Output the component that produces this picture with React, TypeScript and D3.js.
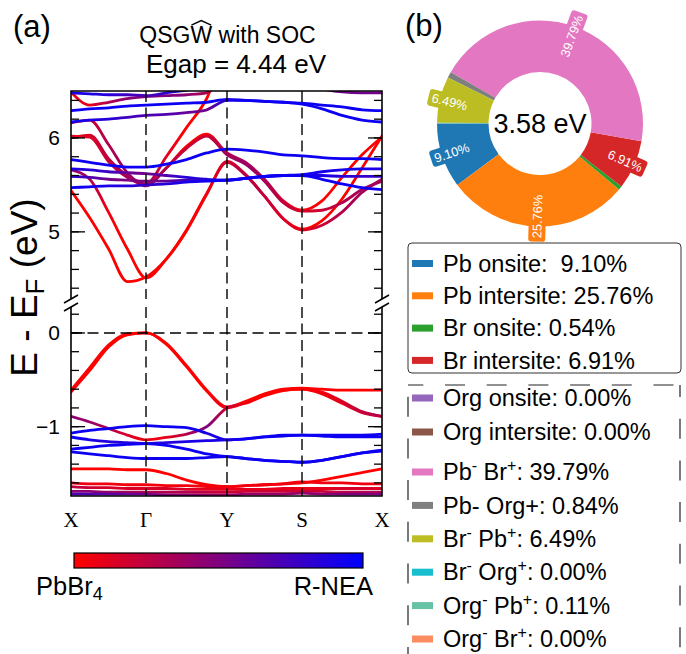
import { useLayoutEffect, useRef, useState } from 'react';
import * as d3 from 'd3';

// ---------------------------------------------------------------------------
// (a) band structure — k path (cumulative length) and energies (eV)
// w = R-NEA weight of each sample (0 = PbBr4 red, 1 = R-NEA blue)
// ---------------------------------------------------------------------------
const kTickLabels = ['X', 'Γ', 'Y', 'S', 'X'];
const kTickPos = [0, 0.752, 1.564, 2.316, 3.118];
const kSamples = [0, 0.188, 0.376, 0.564, 0.752, 0.955, 1.158, 1.361, 1.564, 1.752, 1.94, 2.128, 2.316, 2.517, 2.717, 2.918, 3.118];

// conduction side
const cbR1 = [5.44, 5.15, 4.82, 4.47, 4.52, 4.71, 5.01, 5.4, 5.75, 5.61, 5.38, 5.14, 5.03, 5.12, 5.35, 5.68, 6.02];
const cbR1w = [0, 0, 0, 0, 0, 0, 0, 0.05, 0.15, 0.1, 0, 0, 0, 0, 0, 0, 0];
const cbR2 = [5.66, 5.56, 5.21, 4.82, 4.51, 4.71, 5.02, 5.41, 5.74, 5.6, 5.38, 5.14, 5.02, 5.07, 5.21, 5.42, 5.56];
const cbR2w = [0.45, 0.3, 0.05, 0, 0, 0, 0, 0.05, 0.2, 0.3, 0.25, 0.15, 0.1, 0.2, 0.3, 0.35, 0.4];
const cbR3 = [6.02, 6.01, 5.75, 5.58, 5.5, 5.68, 5.91, 6.04, 5.84, 5.74, 5.56, 5.33, 5.23, 5.33, 5.58, 5.82, 6.01];
const cbR3w = [0.1, 0.15, 0.2, 0.35, 0.4, 0.1, 0, 0, 0.3, 0.35, 0.3, 0.15, 0.05, 0, 0, 0, 0];
const cbR4 = [6.16, 6.19, 5.93, 5.63, 5.49, 5.68, 5.89, 6.02, 5.82, 5.72, 5.54, 5.31, 5.22, 5.23, 5.31, 5.45, 5.54];
const cbR4w = [0.2, 0.2, 0.3, 0.4, 0.45, 0.3, 0.2, 0.2, 0.35, 0.4, 0.35, 0.25, 0.15, 0.2, 0.3, 0.35, 0.35];
const cbR5 = [6.0, 6.03, 5.78, 5.6, 5.51, 5.8, 6.11, 6.42, 6.95, 7.0, 7.0, 7.0, 7.0, 7.0, 7.0, 7.0, 7.0];
const cbR5w = [0.1, 0.15, 0.25, 0.35, 0.4, 0.1, 0, 0, 0, 0, 0, 0, 0, 0, 0, 0, 0];
const cbT1 = [6.49, 6.35, 6.38, 6.42, 6.44, 6.45, 6.46, 6.48, 6.7, 6.9, 6.9, 6.9, 6.9, 6.9, 6.9, 6.9, 6.9];
const cbT1w = [0.05, 0.1, 0.3, 0.45, 0.5, 0.5, 0.45, 0.3, 0.2, 0.2, 0.2, 0.2, 0.2, 0.2, 0.2, 0.2, 0.2];
const cbT2 = [6.48, 6.47, 6.46, 6.46, 6.45, 6.48, 6.51, 6.55, 6.58, 6.6, 6.6, 6.58, 6.55, 6.52, 6.49, 6.48, 6.48];
const cbT2w = [0.9, 0.9, 0.85, 0.75, 0.7, 0.8, 0.9, 0.9, 0.9, 0.9, 0.9, 0.8, 0.7, 0.6, 0.55, 0.55, 0.55];
const cbBa = [6.29, 6.31, 6.32, 6.34, 6.35, 6.36, 6.37, 6.38, 6.41, 6.4, 6.39, 6.38, 6.37, 6.35, 6.33, 6.3, 6.29];
const cbBaw = [0.95, 0.95, 0.95, 0.95, 0.95, 0.95, 0.95, 0.95, 0.95, 0.95, 0.95, 0.95, 0.95, 0.95, 0.95, 0.95, 0.95];
const cbBb = [6.17, 6.19, 6.2, 6.22, 6.24, 6.25, 6.27, 6.3, 6.4, 6.4, 6.39, 6.38, 6.36, 6.31, 6.24, 6.19, 6.17];
const cbBbw = [0.95, 0.9, 0.85, 0.75, 0.7, 0.7, 0.6, 0.55, 0.9, 0.95, 0.95, 0.95, 0.95, 0.95, 0.95, 0.95, 0.95];
const cbBc = [5.77, 5.74, 5.71, 5.69, 5.69, 5.72, 5.77, 5.84, 5.88, 5.87, 5.85, 5.82, 5.81, 5.79, 5.78, 5.78, 5.77];
const cbBcw = [0.95, 0.95, 0.95, 0.95, 0.95, 0.95, 0.95, 0.95, 0.95, 0.95, 0.95, 0.95, 0.95, 0.95, 0.95, 0.95, 0.95];
const cbBd = [5.67, 5.66, 5.64, 5.63, 5.62, 5.6, 5.58, 5.56, 5.55, 5.57, 5.59, 5.6, 5.61, 5.64, 5.66, 5.67, 5.67];
const cbBdw = [0.9, 0.85, 0.75, 0.6, 0.55, 0.7, 0.85, 0.9, 0.95, 0.95, 0.95, 0.95, 0.95, 0.9, 0.9, 0.9, 0.9];
const cbBe = [5.59, 5.58, 5.56, 5.55, 5.54, 5.54, 5.55, 5.55, 5.55, 5.57, 5.59, 5.6, 5.6, 5.6, 5.59, 5.59, 5.59];
const cbBew = [0.85, 0.7, 0.55, 0.5, 0.5, 0.6, 0.75, 0.85, 0.95, 0.95, 0.95, 0.95, 0.95, 0.9, 0.85, 0.8, 0.8];
const cbBf = [5.47, 5.48, 5.49, 5.49, 5.5, 5.51, 5.53, 5.54, 5.55, 5.57, 5.59, 5.6, 5.6, 5.56, 5.51, 5.47, 5.45];
const cbBfw = [0.95, 0.95, 0.9, 0.85, 0.8, 0.85, 0.9, 0.95, 0.95, 0.95, 0.95, 0.95, 0.95, 0.95, 0.95, 0.95, 0.95];

// valence side
const vbR1 = [-0.61, -0.37, -0.13, -0.01, 0.0, -0.11, -0.35, -0.61, -0.79, -0.73, -0.65, -0.6, -0.59, -0.6, -0.61, -0.61, -0.61];
const vbR1w = [0, 0, 0, 0, 0, 0, 0, 0, 0.1, 0, 0, 0, 0, 0, 0, 0, 0];
const vbR2 = [-0.63, -0.4, -0.15, -0.02, 0.0, -0.12, -0.36, -0.62, -0.8, -0.74, -0.66, -0.61, -0.6, -0.65, -0.75, -0.85, -0.89];
const vbR2w = [0.05, 0, 0, 0, 0, 0, 0, 0, 0.1, 0, 0, 0, 0, 0.05, 0.1, 0.15, 0.2];
const vbR3 = [-0.89, -0.95, -1.02, -1.09, -1.14, -1.115, -1.08, -1.0, -0.8, -0.75, -0.67, -0.615, -0.6, -0.63, -0.73, -0.84, -0.89];
const vbR3w = [0.45, 0.4, 0.3, 0.15, 0.05, 0.1, 0.3, 0.5, 0.2, 0.05, 0, 0, 0, 0.05, 0.15, 0.25, 0.3];
const vbBa = [-1.07, -1.04, -1.02, -1.0, -0.99, -1.0, -1.01, -1.07, -1.14, -1.13, -1.11, -1.09, -1.09, -1.09, -1.09, -1.09, -1.08];
const vbBaw = [0.95, 0.95, 0.95, 0.95, 0.95, 0.95, 0.95, 0.9, 0.9, 0.95, 0.95, 0.95, 0.95, 0.95, 0.95, 0.95, 0.95];
const vbBb = [-1.11, -1.14, -1.16, -1.17, -1.18, -1.17, -1.16, -1.15, -1.14, -1.13, -1.11, -1.1, -1.09, -1.1, -1.11, -1.11, -1.11];
const vbBbw = [0.95, 0.9, 0.85, 0.85, 0.85, 0.85, 0.9, 0.9, 0.9, 0.95, 0.95, 0.95, 0.95, 0.95, 0.95, 0.95, 0.95];
const vbBc = [-1.24, -1.22, -1.2, -1.19, -1.18, -1.2, -1.24, -1.29, -1.32, -1.34, -1.36, -1.37, -1.38, -1.36, -1.32, -1.28, -1.25];
const vbBcw = [0.95, 0.95, 0.95, 0.95, 0.95, 0.95, 0.95, 0.95, 0.95, 0.95, 0.95, 0.95, 0.95, 0.95, 0.95, 0.95, 0.95];
const vbBd = [-1.27, -1.29, -1.31, -1.33, -1.34, -1.34, -1.34, -1.33, -1.32, -1.34, -1.36, -1.37, -1.38, -1.36, -1.32, -1.28, -1.26];
const vbBdw = [0.95, 0.95, 0.95, 0.95, 0.95, 0.95, 0.95, 0.95, 0.95, 0.95, 0.95, 0.95, 0.95, 0.95, 0.95, 0.95, 0.95];
const vbE1 = [-1.45, -1.45, -1.45, -1.46, -1.46, -1.5, -1.57, -1.62, -1.64, -1.63, -1.62, -1.61, -1.6, -1.57, -1.53, -1.49, -1.45];
const vbE1w = [0, 0, 0, 0, 0, 0, 0, 0, 0, 0, 0, 0, 0, 0, 0, 0, 0];
const vbE2 = [-1.6, -1.61, -1.61, -1.62, -1.62, -1.63, -1.63, -1.64, -1.64, -1.63, -1.62, -1.61, -1.59, -1.6, -1.6, -1.61, -1.61];
const vbE2w = [0.1, 0.05, 0.05, 0.05, 0.05, 0.05, 0.05, 0.05, 0.05, 0.05, 0.05, 0.05, 0.05, 0.05, 0.05, 0.05, 0.05];
const vbE3 = [-1.64, -1.65, -1.65, -1.66, -1.66, -1.66, -1.67, -1.67, -1.67, -1.67, -1.67, -1.66, -1.66, -1.66, -1.66, -1.66, -1.66];
const vbE3w = [0.25, 0.2, 0.15, 0.15, 0.15, 0.15, 0.15, 0.1, 0.1, 0.1, 0.1, 0.1, 0.1, 0.1, 0.15, 0.15, 0.15];
const vbE4 = [-1.69, -1.69, -1.7, -1.7, -1.7, -1.7, -1.7, -1.7, -1.7, -1.69, -1.69, -1.69, -1.69, -1.69, -1.7, -1.7, -1.7];
const vbE4w = [0.45, 0.45, 0.4, 0.35, 0.3, 0.3, 0.3, 0.25, 0.2, 0.2, 0.2, 0.2, 0.2, 0.2, 0.25, 0.3, 0.3];
const vbE5 = [-1.72, -1.72, -1.72, -1.72, -1.72, -1.73, -1.73, -1.73, -1.73, -1.72, -1.72, -1.72, -1.71, -1.72, -1.72, -1.72, -1.72];
const vbE5w = [0.7, 0.7, 0.65, 0.6, 0.55, 0.5, 0.45, 0.4, 0.4, 0.4, 0.4, 0.4, 0.4, 0.45, 0.5, 0.5, 0.5];

const conductionBands = [
  { e: cbR1, w: cbR1w }, { e: cbR2, w: cbR2w }, { e: cbR3, w: cbR3w }, { e: cbR4, w: cbR4w },
  { e: cbR5, w: cbR5w }, { e: cbT1, w: cbT1w }, { e: cbT2, w: cbT2w }, { e: cbBa, w: cbBaw },
  { e: cbBb, w: cbBbw }, { e: cbBc, w: cbBcw }, { e: cbBd, w: cbBdw }, { e: cbBe, w: cbBew },
  { e: cbBf, w: cbBfw },
];
const valenceBands = [
  { e: vbE1, w: vbE1w }, { e: vbE2, w: vbE2w }, { e: vbE3, w: vbE3w }, { e: vbE4, w: vbE4w },
  { e: vbE5, w: vbE5w }, { e: vbR1, w: vbR1w }, { e: vbR2, w: vbR2w }, { e: vbR3, w: vbR3w },
  { e: vbBa, w: vbBaw }, { e: vbBb, w: vbBbw }, { e: vbBc, w: vbBcw }, { e: vbBd, w: vbBdw },
];

const egap = 4.44;

// ---------------------------------------------------------------------------
// (b) contributions (%)
// ---------------------------------------------------------------------------
const contribNames = ['Pb onsite', 'Pb intersite', 'Br onsite', 'Br intersite', 'Org onsite', 'Org intersite',
  'Pb^- Br^+', 'Pb- Org+', 'Br^- Pb^+', 'Br^- Org^+', 'Org^- Pb^+', 'Org^- Br^+'];
const contribValues = [9.1, 25.76, 0.54, 6.91, 0, 0, 39.79, 0.84, 6.49, 0, 0.11, 0];
const contribColors = ['#1f77b4', '#ff7f0e', '#2ca02c', '#d62728', '#9467bd', '#8c564b',
  '#e377c2', '#7f7f7f', '#bcbd22', '#17becf', '#66c2a5', '#fc8d62'];
const gapValue = 3.58;

const FONT = "'Liberation Sans', Arial, Helvetica, sans-serif";
const SERIF = "'Liberation Serif', 'Times New Roman', serif";
const toColor = d3.interpolateRgb('#ff0000', '#0000ff');

// rough Arial advance widths for the pie labels
const charW = (c: string) => (c === '.' ? 0.278 : c === '%' ? 0.889 : 0.556);
const textWidth = (s: string, fs: number) => s.split('').reduce((a, c) => a + charW(c), 0) * fs;

// 'Pb^- Br^+' -> runs with superscripts
function parseLabel(s: string) {
  const runs: { t: string; sup: boolean }[] = [];
  let buf = '';
  for (let i = 0; i < s.length; i++) {
    if (s[i] === '^' && i + 1 < s.length) {
      if (buf) runs.push({ t: buf, sup: false });
      buf = '';
      runs.push({ t: s[i + 1], sup: true });
      i++;
    } else buf += s[i];
  }
  if (buf) runs.push({ t: buf, sup: false });
  return runs;
}

function LegendText({ x, y, label, fs }: { x: number; y: number; label: string; fs: number }) {
  const runs = parseLabel(label);
  let shifted = false;
  return (
    <text x={x} y={y} fontSize={fs} style={{ whiteSpace: 'pre' }}>
      {runs.map((r, i) => {
        let dy = 0;
        if (r.sup && !shifted) { dy = -9; shifted = true; }
        else if (!r.sup && shifted) { dy = 9; shifted = false; }
        return (
          <tspan key={i} dy={dy || undefined} fontSize={r.sup ? 16 : undefined}>{r.t}</tspan>
        );
      })}
    </text>
  );
}

export default function App() {
  const titleRef = useRef<SVGTextElement>(null);
  const [hat, setHat] = useState<{ x: number; w: number } | null>(null);

  useLayoutEffect(() => {
    const el = titleRef.current;
    if (!el) return;
    try {
      const b = el.getExtentOfChar(3);
      setHat({ x: b.x, w: b.width });
    } catch {
      // ignore
    }
  }, []);

  const L = 71, R = 382;
  const upTop = 91, upBot = 299, loTop = 307, loBot = 496;
  const kMax = kTickPos[kTickPos.length - 1];
  const x = d3.scaleLinear().domain([0, kMax]).range([L, R]);
  const yUp = d3.scaleLinear().domain([4.285, 6.5]).range([upBot, upTop]);
  const yLo = d3.scaleLinear().domain([-1.74, 0.277]).range([loBot, loTop]);

  const mkLine = (y: d3.ScaleLinear<number, number>) =>
    d3.line<number>().x((_, i) => x(kSamples[i])).y((v) => y(v)).curve(d3.curveMonotoneX);
  const lineUp = mkLine(yUp);
  const lineLo = mkLine(yLo);

  const upMajor = [5, 6];
  const upMinor = d3.range(4.4, 6.45, 0.2);
  const loMajor = [-1, 0];
  const loMinor = d3.range(-1.6, 0.25, 0.2);
  const fmt = d3.format('d');

  const gradient = (id: string, w: number[]) => (
    <linearGradient key={id} id={id} gradientUnits="userSpaceOnUse" x1={x(0)} y1={0} x2={x(kMax)} y2={0}>
      {w.map((v, i) => (
        <stop key={i} offset={kSamples[i] / kMax} stopColor={toColor(v)} />
      ))}
    </linearGradient>
  );

  const tickMarks = (y: d3.ScaleLinear<number, number>, vals: number[], len: number, key: string) =>
    vals.map((v) => (
      <g key={`${key}${v}`}>
        <line x1={L} x2={L + len} y1={y(v)} y2={y(v)} stroke="#000" strokeWidth={1.3} />
        <line x1={R} x2={R - len} y1={y(v)} y2={y(v)} stroke="#000" strokeWidth={1.3} />
      </g>
    ));

  const breakMark = (px: number, py: number, key: string) => (
    <line key={key} x1={px - 7} y1={py + 4} x2={px + 7} y2={py - 4} stroke="#000" strokeWidth={1.6} />
  );

  // pie
  const cx = 540, cy = 123.5, rOut = 103, rIn = 51.5, rLab = 93;
  const pie = d3.pie<number>().sort(null).value((d) => d)
    .startAngle(-Math.PI / 2).endAngle(-Math.PI / 2 - 2 * Math.PI);
  const arcs = pie(contribValues);
  const arc = d3.arc<d3.PieArcDatum<number>>().innerRadius(rIn).outerRadius(rOut);
  const labFs = 12.8;

  const legRowY1 = (i: number) => 263.5 + 32.3 * i;
  const legRowY2 = (i: number) => (i < 2 ? 398 + 34 * i : 472 + 33.4 * (i - 2));
  const legFs = 23.5;

  return (
    <svg width={686} height={654} style={{ position: 'absolute', left: 0, top: 0, background: '#fff' }}
      fontFamily={FONT}>
      <defs>
        <clipPath id="clipUp"><rect x={L} y={upTop} width={R - L} height={upBot - upTop} /></clipPath>
        <clipPath id="clipLo"><rect x={L} y={loTop} width={R - L} height={loBot - loTop} /></clipPath>
        {conductionBands.map((b, i) => gradient(`gu${i}`, b.w))}
        {valenceBands.map((b, i) => gradient(`gl${i}`, b.w))}
        <linearGradient id="cbar" x1="0" x2="1" y1="0" y2="0">
          <stop offset="0" stopColor="#ff0000" />
          <stop offset="1" stopColor="#0000ff" />
        </linearGradient>
      </defs>

      {/* panel labels */}
      <text x={13} y={37} fontSize={31}>(a)</text>
      <text x={405} y={36} fontSize={31}>(b)</text>

      {/* title */}
      <text ref={titleRef} x={227.5} y={43} fontSize={23} textAnchor="middle">QSGW with SOC</text>
      {hat && (
        <polyline
          points={`${hat.x + 1},${43 - 0.716 * 23 - 1.5} ${hat.x + hat.w / 2},${43 - 0.716 * 23 - 6} ${hat.x + hat.w - 1},${43 - 0.716 * 23 - 1.5}`}
          fill="none" stroke="#000" strokeWidth={1.4} />
      )}
      <text x={236} y={73} fontSize={26} textAnchor="middle">{`Egap = ${egap.toFixed(2)} eV`}</text>

      {/* bands */}
      <g clipPath="url(#clipUp)" fill="none" strokeWidth={2.8} strokeLinecap="round">
        {conductionBands.map((b, i) => (
          <path key={i} d={lineUp(b.e) || ''} stroke={`url(#gu${i})`} />
        ))}
      </g>
      <g clipPath="url(#clipLo)" fill="none" strokeWidth={2.8} strokeLinecap="round">
        {valenceBands.map((b, i) => (
          <path key={i} d={lineLo(b.e) || ''} stroke={`url(#gl${i})`} />
        ))}
      </g>

      {/* high-symmetry and Fermi lines */}
      {kTickPos.slice(1, -1).map((k) => (
        <g key={k} stroke="#000" strokeWidth={1.4} strokeDasharray="11 5.5">
          <line x1={x(k)} x2={x(k)} y1={upTop} y2={upBot} />
          <line x1={x(k)} x2={x(k)} y1={loTop} y2={loBot} />
        </g>
      ))}
      <line x1={L} x2={R} y1={yLo(0)} y2={yLo(0)} stroke="#000" strokeWidth={1.4} strokeDasharray="11 5.5" />

      {/* frame */}
      <g stroke="#000" strokeWidth={1.6} fill="none">
        <polyline points={`${L},${upBot} ${L},${upTop} ${R},${upTop} ${R},${upBot}`} />
        <polyline points={`${L},${loTop} ${L},${loBot} ${R},${loBot} ${R},${loTop}`} />
      </g>
      {breakMark(L, upBot, 'b1')}
      {breakMark(R, upBot, 'b2')}
      {breakMark(L, loTop, 'b3')}
      {breakMark(R, loTop, 'b4')}

      {tickMarks(yUp, upMinor, 8, 'um')}
      {tickMarks(yUp, upMajor, 14, 'uM')}
      {tickMarks(yLo, loMinor, 8, 'lm')}
      {tickMarks(yLo, loMajor, 14, 'lM')}

      {upMajor.map((v) => (
        <text key={`ut${v}`} x={60} y={yUp(v) + 7.5} fontSize={21} textAnchor="end">{fmt(v)}</text>
      ))}
      {loMajor.map((v) => (
        <text key={`lt${v}`} x={60} y={yLo(v) + 7.5} fontSize={21} textAnchor="end">{fmt(v)}</text>
      ))}

      {kTickLabels.map((lab, i) => (
        <text key={i} x={x(kTickPos[i])} y={527} fontSize={21} fontFamily={SERIF} textAnchor="middle">{lab}</text>
      ))}

      <text transform="translate(37,287.5) rotate(-90)" fontSize={37} textAnchor="middle" style={{ whiteSpace: 'pre' }}>
        <tspan>E - E</tspan>
        <tspan fontSize={26} dy={7}>F</tspan>
        <tspan dy={-7}> (eV)</tspan>
      </text>

      {/* colour bar */}
      <rect x={74} y={553} width={289} height={15} fill="url(#cbar)" stroke="#000" strokeWidth={1.2} />
      <text x={36} y={595} fontSize={25.5}>
        PbBr<tspan fontSize={18} dy={5}>4</tspan>
      </text>
      <text x={373} y={595} fontSize={25.5} textAnchor="end">R-NEA</text>

      {/* donut */}
      <g transform={`translate(${cx},${cy})`}>
        {arcs.map((a, i) => (
          <path key={i} d={arc(a) || ''} fill={contribColors[i]} />
        ))}
      </g>
      {arcs.map((a, i) => {
        const v = contribValues[i];
        if (v < 1) return null;
        const mid = (a.startAngle + a.endAngle) / 2;
        const lx = cx + rLab * Math.sin(mid);
        const ly = cy - rLab * Math.cos(mid);
        let theta = 90 - (mid * 180) / Math.PI;
        if (Math.sin(mid) < 0) theta += 180;
        const txt = `${v.toFixed(2)}%`;
        const tw = textWidth(txt, labFs);
        return (
          <g key={`lab${i}`} transform={`translate(${lx},${ly}) rotate(${-theta})`}>
            <rect x={-tw / 2 - 3.5} y={-8.5} width={tw + 7} height={17} rx={3} fill={contribColors[i]} />
            <text y={4.5} fontSize={labFs} textAnchor="middle" fill="#fff">{txt}</text>
          </g>
        );
      })}
      <text x={cx} y={133} fontSize={27} textAnchor="middle">{`${gapValue.toFixed(2)} eV`}</text>

      {/* legend 1 */}
      <rect x={408} y={243} width={273} height={130} rx={4} fill="#fff" stroke="#333" strokeWidth={1} />
      {contribNames.slice(0, 4).map((n, i) => (
        <g key={`l1${i}`}>
          <rect x={412} y={legRowY1(i) - 3.5} width={21} height={7} fill={contribColors[i]} />
          <LegendText x={443} y={legRowY1(i) + 8.2} fs={legFs}
            label={`${n}:${i === 0 ? '  ' : ' '}${contribValues[i].toFixed(2)}%`} />
        </g>
      ))}

      {/* legend 2 (dashed frame) */}
      <g stroke="#222" strokeWidth={1.2} strokeDasharray="20 21.7" fill="none">
        <line x1={408} y1={385} x2={681} y2={385} strokeDashoffset={4.7} />
        <line x1={408} y1={385} x2={408} y2={660} strokeDashoffset={30} />
        <line x1={680} y1={385} x2={680} y2={660} strokeDashoffset={8} />
      </g>
      {contribNames.slice(4).map((n, j) => {
        const i = j + 4;
        return (
          <g key={`l2${i}`}>
            <rect x={412} y={legRowY2(j) - 3.5} width={21} height={7} fill={contribColors[i]} />
            <LegendText x={443} y={legRowY2(j) + 8.2} fs={legFs}
              label={`${n}: ${contribValues[i].toFixed(2)}%`} />
          </g>
        );
      })}
    </svg>
  );
}
